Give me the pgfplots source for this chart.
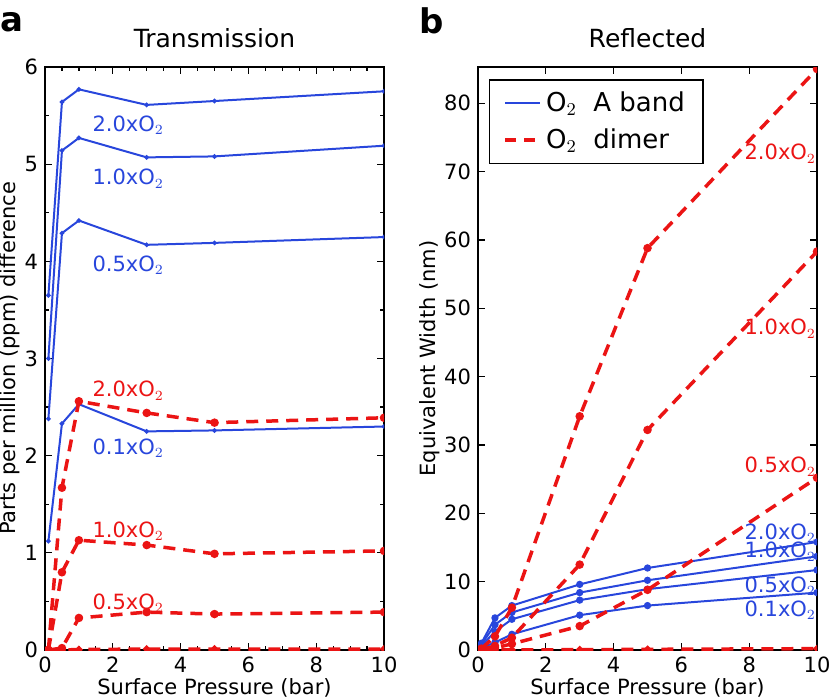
\documentclass[border=0pt]{standalone}
\usepackage{pgfplots}
\pgfplotsset{compat=1.18}
\usepackage{fontspec}
\setmainfont{DejaVu Sans}
\definecolor{cBlue}{RGB}{40,70,220}
\definecolor{cRed}{RGB}{235,20,20}

\pgfplotsset{
  panel/.style={
    scale only axis, width=169.5pt, height=291.5pt,
    xmin=0, xmax=10, ymin=0,
    axis line style={line width=0.8pt},
    tick align=inside, xtick pos=both, ytick pos=both,
    major tick length=3.5pt, minor tick length=2pt,
    tick style={black, line width=0.6pt},
    tick label style={font=\fontsize{10.5}{12}\selectfont},
    /pgf/number format/assume math mode=true,
    xtick={0,2,...,10},
    xlabel={Surface Pressure (bar)},
    xlabel style={at={(axis description cs:0.5,-0.065)}, anchor=center, font=\fontsize{10.5}{12}\selectfont},
    title style={at={(axis description cs:0.5,1.029)}, anchor=center, font=\fontsize{12.5}{14}\selectfont},
    clip marker paths=true,
  },
  bl/.style={cBlue, line width=1pt, mark=*, mark options={solid}},
  rd/.style={cRed, line width=1.75pt, dash pattern=on 6pt off 4pt, mark=*, mark size=1.2pt, mark options={solid}},
}
\tikzset{lab/.style={inner sep=0pt, font=\fontsize{10.5}{12}\selectfont}}

\begin{document}
\begin{tikzpicture}
\useasboundingbox (-22.5pt,-24pt) rectangle (394pt,325pt);

% panel a
\begin{axis}[panel, at={(0pt,0pt)}, anchor=origin,
  ymax=6, ytick={0,...,6},
  minor xtick={1,3,...,9,0.5,1.5,...,9.5}, minor ytick={0.5,1.5,...,5.5},
  title={Transmission},
  ylabel={Parts per million (ppm) difference},
  ylabel style={at={(axis description cs:-0.103,0.5)}, anchor=center, font=\fontsize{10.5}{12}\selectfont},
]
\addplot[bl, mark size=0.6pt] coordinates {(0.1,3.65) (0.5,5.64) (1,5.77) (3,5.61) (5,5.65) (10,5.75)};
\addplot[bl, mark size=0.6pt] coordinates {(0.1,3.0) (0.5,5.14) (1,5.27) (3,5.07) (5,5.08) (10,5.19)};
\addplot[bl, mark size=0.6pt] coordinates {(0.1,2.38) (0.5,4.29) (1,4.42) (3,4.17) (5,4.19) (10,4.25)};
\addplot[bl, mark size=0.6pt] coordinates {(0.1,1.12) (0.5,2.33) (1,2.53) (3,2.25) (5,2.26) (10,2.30)};
\addplot[rd] coordinates {(0.1,0) (0.5,1.67) (1,2.56) (3,2.44) (5,2.34) (10,2.39)};
\addplot[rd] coordinates {(0.1,0) (0.5,0.80) (1,1.13) (3,1.08) (5,0.99) (10,1.02)};
\addplot[rd] coordinates {(0.1,0) (0.5,0.02) (1,0.33) (3,0.39) (5,0.37) (10,0.39)};
\addplot[rd, mark size=0.8pt] coordinates {(0.1,0) (0.5,0) (1,0.005) (3,0.01) (5,0.01) (10,0.01)};
\node[lab, cBlue, anchor=west] at (axis cs:1.39,5.40) {2.0xO$_2$};
\node[lab, cBlue, anchor=west] at (axis cs:1.39,4.85) {1.0xO$_2$};
\node[lab, cBlue, anchor=west] at (axis cs:1.39,3.96) {0.5xO$_2$};
\node[lab, cBlue, anchor=west] at (axis cs:1.39,2.08) {0.1xO$_2$};
\node[lab, cRed, anchor=west] at (axis cs:1.39,2.67) {2.0xO$_2$};
\node[lab, cRed, anchor=west] at (axis cs:1.39,1.22) {1.0xO$_2$};
\node[lab, cRed, anchor=west] at (axis cs:1.39,0.48) {0.5xO$_2$};
\end{axis}
\node[font=\fontsize{17}{19}\selectfont\bfseries] at (-16.5pt,314pt) {a};

% panel b
\begin{axis}[panel, at={(216.5pt,0pt)}, anchor=origin,
  ymax=85.3, ytick={0,10,...,80},
  title={Reflected},
  ylabel={Equivalent Width (nm)},
  ylabel style={at={(axis description cs:-0.142,0.5)}, anchor=center, font=\fontsize{10.5}{12}\selectfont},
  legend style={at={(axis description cs:0.032,0.979)}, anchor=north west,
    draw=black, line width=0.8pt, inner xsep=7pt, inner ysep=4pt,
    font=\fontsize{13}{15}\selectfont, row sep=3pt,
    /tikz/every even column/.append style={column sep=12pt}},
  legend cell align=left,
  legend image code/.code={\draw[#1] (0pt,0pt) -- (17.5pt,0pt);},
]
\addlegendimage{cBlue, line width=1pt}
\addlegendentry{O$_2$\ \ A band}
\addlegendimage{cRed, line width=1.75pt, dash pattern=on 5.5pt off 4pt}
\addlegendentry{O$_2$\ \ dimer}
\addplot[bl, mark size=1.3pt, forget plot] coordinates {(0.1,1.0) (0.5,4.7) (1,6.5) (3,9.6) (5,12.0) (10,15.8)};
\addplot[bl, mark size=1.3pt, forget plot] coordinates {(0.1,0.8) (0.5,3.7) (1,5.5) (3,8.4) (5,10.2) (10,13.7)};
\addplot[bl, mark size=1.3pt, forget plot] coordinates {(0.1,0.6) (0.5,2.7) (1,4.5) (3,7.3) (5,8.9) (10,11.7)};
\addplot[bl, mark size=1.3pt, forget plot] coordinates {(0.1,0.3) (0.5,1.1) (1,2.3) (3,5.1) (5,6.5) (10,8.4)};
\addplot[rd, forget plot] coordinates {(0.1,0.2) (0.5,2.0) (1,6.2) (3,34.2) (5,58.8) (10,85)};
\addplot[rd, forget plot] coordinates {(0.1,0.05) (0.5,0.6) (1,1.8) (3,12.5) (5,32.2) (10,58.3)};
\addplot[rd, forget plot] coordinates {(0.1,0) (0.5,0.3) (1,0.9) (3,3.5) (5,8.8) (10,25.2)};
\addplot[rd, mark size=0.8pt, forget plot] coordinates {(0.1,0) (0.5,0) (1,0.02) (3,0.05) (5,0.1) (10,0.2)};
\node[lab, cRed, anchor=east] at (axis cs:9.98,72.6) {2.0xO$_2$};
\node[lab, cRed, anchor=east] at (axis cs:9.98,47.0) {1.0xO$_2$};
\node[lab, cRed, anchor=east] at (axis cs:9.98,26.8) {0.5xO$_2$};
\node[lab, cBlue, anchor=east] at (axis cs:9.98,17.1) {2.0xO$_2$};
\node[lab, cBlue, anchor=east] at (axis cs:9.98,14.4) {1.0xO$_2$};
\node[lab, cBlue, anchor=east] at (axis cs:9.98,9.3) {0.5xO$_2$};
\node[lab, cBlue, anchor=east] at (axis cs:9.98,5.8) {0.1xO$_2$};
\end{axis}
\node[font=\fontsize{17}{19}\selectfont\bfseries] at (193.5pt,314.5pt) {b};
\end{tikzpicture}
\end{document}
